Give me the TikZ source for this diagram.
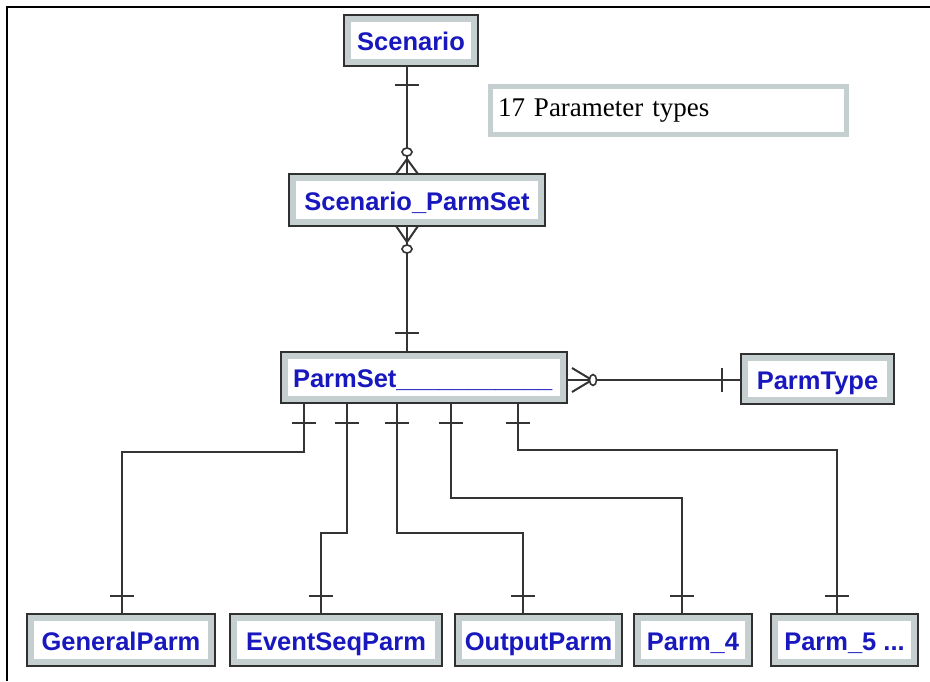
\documentclass[tikz,border=0pt]{standalone}
\usepackage{fontspec}
\setmainfont{Liberation Serif}
\newfontfamily\entfont{Liberation Sans}
\usetikzlibrary{calc}
\definecolor{entedge}{RGB}{48,48,48}
\definecolor{entband}{RGB}{197,207,207}
\definecolor{entblue}{RGB}{24,24,190}
\definecolor{linkgray}{RGB}{52,52,52}
\begin{document}
\begin{tikzpicture}[x=1pt,y=-1pt,
  ent/.style={draw=entband, line width=6pt, fill=white,
    preaction={draw=entedge, line width=10pt},
    inner sep=0pt, outer sep=4pt, text=entblue,
    text height=20pt, text depth=0pt,
    font=\entfont\bfseries\fontsize{25.5}{30}\selectfont},
  note/.style={draw=entband, line width=5pt, fill=white,
    inner xsep=7.5pt, inner ysep=0pt, align=left,
    font=\fontsize{27}{32}\selectfont},
  link/.style={draw=linkgray, line width=2pt},
  ringend/.style={draw=linkgray, line width=1.6pt, fill=white},
]
\useasboundingbox (0,0) rectangle (930,681);

% page frame (top and left rule)
\draw[black, line width=2pt] (7,681) -- (7,7) -- (930,7);

% entities
\node[ent, minimum width=126pt, minimum height=43pt] (Scn) at (411,40.5) {Scenario};
\node[ent, minimum width=248pt, minimum height=44pt] (SPS) at (417,200) {Scenario\_ParmSet};
\node[ent, minimum width=278pt, minimum height=43pt, inner xsep=8pt,
      text width=262pt, align=left] (PS) at (424,377.5)
      {ParmSet\_\_\_\_\_\_\_\_\_\_\_};
\node[ent, minimum width=145pt, minimum height=42pt] (PT) at (817.5,379) {ParmType};
\node[ent, minimum width=180pt, minimum height=44pt] (GP)  at (121,640)   {GeneralParm};
\node[ent, minimum width=204pt, minimum height=44pt] (ESP) at (336,640)   {EventSeqParm};
\node[ent, minimum width=159pt, minimum height=44pt] (OP)  at (538.5,640) {OutputParm};
\node[ent, minimum width=110pt, minimum height=44pt] (P4)  at (693,640)   {Parm\_4};
\node[ent, minimum width=139pt, minimum height=44pt] (P5)  at (844.5,640) {Parm\_5 ...};

% annotation
\node[note, minimum width=356pt, minimum height=48pt, text width=341pt] (types)
      at (668.5,110.5) {17 Parameter types};

% routing guides
\coordinate (spine) at (407,0);
\coordinate (rowR) at (0,380);
\coordinate (c1) at (304,0);
\coordinate (c2) at (347,0);
\coordinate (c3) at (397,0);
\coordinate (c4) at (451,0);
\coordinate (c5) at (518,0);
\coordinate (b1) at (122,0);
\coordinate (b2) at (321,0);
\coordinate (b3) at (523,0);
\coordinate (b4) at (682,0);
\coordinate (b5) at (837,0);
\coordinate (j1) at (0,452);
\coordinate (j2) at (0,533);
\coordinate (j3) at (0,533);
\coordinate (j4) at (0,498);
\coordinate (j5) at (0,450);

% Scenario (one) -- Scenario_ParmSet (zero or many)
\draw[link] (spine |- Scn.south) -- (spine |- SPS.north);
\draw[link] ($(spine |- Scn.south)+(-12,19)$) -- ++(24,0);
\draw[link] ($(spine |- SPS.north)+(-11,0)$) -- ($(spine |- SPS.north)+(0,-15)$)
            -- ($(spine |- SPS.north)+(11,0)$);
\draw[ringend] ($(spine |- SPS.north)+(0,-22)$) ellipse [x radius=5pt, y radius=4pt];

% Scenario_ParmSet (zero or many) -- ParmSet (one)
\draw[link] (spine |- SPS.south) -- (spine |- PS.north);
\draw[link] ($(spine |- SPS.south)+(-11,0)$) -- ($(spine |- SPS.south)+(0,16)$)
            -- ($(spine |- SPS.south)+(11,0)$);
\draw[ringend] ($(spine |- SPS.south)+(0,23)$) ellipse [x radius=5pt, y radius=4pt];
\draw[link] ($(spine |- PS.north)+(-12,-19)$) -- ++(24,0);

% ParmSet (zero or many) -- ParmType (one)
\draw[link] (rowR -| PS.east) -- (rowR -| PT.west);
\draw[link] ($(rowR -| PS.east)+(5,-12)$) -- ($(rowR -| PS.east)+(25,0)$)
            -- ($(rowR -| PS.east)+(5,12)$);
\draw[ringend] ($(rowR -| PS.east)+(26,0)$) ellipse [x radius=3.5pt, y radius=5.5pt];
\draw[link] ($(rowR -| PT.west)+(-19,-12)$) -- ++(0,24);

% ParmSet (one) -- parameter tables (one)
\foreach \c/\b/\j/\n in {c1/b1/j1/GP, c2/b2/j2/ESP, c3/b3/j3/OP, c4/b4/j4/P4, c5/b5/j5/P5} {
  \draw[link] (\c |- PS.south) |- (\b |- \j) -- (\b |- \n.north);
  \draw[link] ($(\c |- PS.south)+(-12,20)$) -- ++(24,0);
  \draw[link] ($(\b |- \n.north)+(-12,-18)$) -- ++(24,0);
}
\end{tikzpicture}
\end{document}
